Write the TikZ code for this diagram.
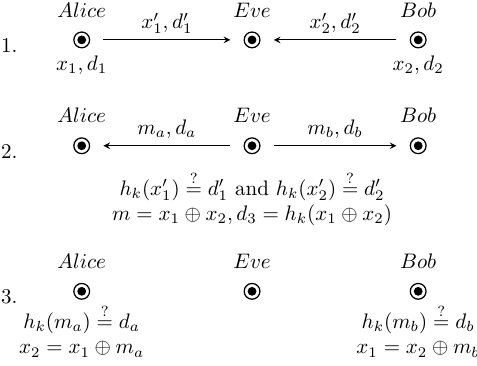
\documentclass[tikz,border=0pt]{standalone}
\usepackage{amsmath,amssymb}
\usepackage{tikz}
\usetikzlibrary{arrows, positioning}

\begin{document}
\begin{tikzpicture}[
    x=1pt, y=1pt,
    party/.style={circle, draw, line width=0.6pt, minimum size=7.5pt, inner sep=0pt,
        path picture={\fill (path picture bounding box.center) circle (2.1pt);}},
    who/.style={label={[label distance=3.3pt]above:#1}},
    knows/.style={label={[label distance=0pt]below:#1}},
    stepnum/.style={left=23pt of #1, yshift=-2.5pt},
    msg/.style={->, >=stealth, shorten <=6.3pt, shorten >=6.3pt},
    msglabel/.style={midway, anchor=base, yshift=5.3pt}
]
\useasboundingbox (0,0) rectangle (227.1,-173.8);

% Round 1
\node[party, who=$Alice$, knows={$x_1,d_1$}] (alice1) at (38.9,-19) {};
\node[party, right=73pt of alice1, who=$Eve$] (eve1) {};
\node[party, right=71pt of eve1, who=$Bob$, knows={$x_2,d_2$}] (bob1) {};
\node[stepnum=alice1] (step1) {1.};

\draw[msg] (alice1) -- node[msglabel] {$x'_1,d'_1$} (eve1);
\draw[msg] (bob1) -- node[msglabel] {$x'_2,d'_2$} (eve1);

% Round 2
\node[party, below=42.3pt of alice1, who=$Alice$] (alice2) {};
\node[party, right=73pt of alice2, who=$Eve$] (eve2) {};
\node[party, right=71pt of eve2, who=$Bob$] (bob2) {};
\node[stepnum=alice2] (step2) {2.};

\draw[msg] (eve2) -- node[msglabel] {$m_a,d_a$} (alice2);
\draw[msg] (eve2) -- node[msglabel] {$m_b,d_b$} (bob2);

\node[below=19pt of eve2.center, anchor=center] (checkeve) {$h_k(x'_1) \overset{?}{=} d'_1$ and $h_k(x'_2) \overset{?}{=} d'_2$};
\node[below=32.9pt of eve2.center, anchor=center] (xoreve) {$m = x_1 \oplus x_2, d_3 = h_k(x_1 \oplus x_2)$};

% Round 3
\node[party, below=61.2pt of alice2, who=$Alice$] (alice3) {};
\node[party, right=73pt of alice3, who=$Eve$] (eve3) {};
\node[party, right=71pt of eve3, who=$Bob$] (bob3) {};
\node[stepnum=alice3] (step3) {3.};

\node[below=13.3pt of alice3.center, anchor=center] (checkalice) {$h_k(m_a) \overset{?}{=} d_a$};
\node[below=27.6pt of alice3.center, anchor=center] (xoralice) {$x_2 = x_1 \oplus m_a$};
\node[below=13.3pt of bob3.center, anchor=center] (checkbob) {$h_k(m_b) \overset{?}{=} d_b$};
\node[below=27.6pt of bob3.center, anchor=center] (xorbob) {$x_1 = x_2 \oplus m_b$};
\end{tikzpicture}
\end{document}
